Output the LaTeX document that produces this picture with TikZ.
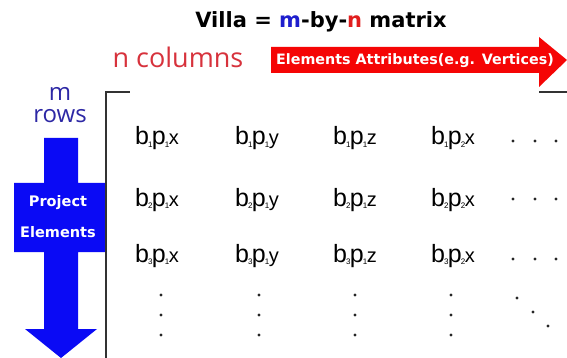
\documentclass[tikz,border=0pt]{standalone}
\usepackage{fontspec}
\setmainfont{DejaVu Sans}
\newfontfamily\opensans{Open Sans}
\newfontfamily\arialf{Liberation Sans}
\definecolor{arrowblue}{RGB}{10,10,245}
\definecolor{arrowred}{RGB}{245,5,5}
\definecolor{rowsblue}{RGB}{45,40,165}
\definecolor{colsred}{RGB}{215,50,60}
\definecolor{titleblue}{RGB}{30,30,205}
\definecolor{titlered}{RGB}{225,30,30}
\definecolor{bracketgray}{RGB}{50,50,50}
\newcommand\entry[3]{{\arialf\fontsize{25}{25}\selectfont b\kern-1pt\raisebox{-2.5pt}{\fontsize{8}{8}\selectfont #1}\kern-0.6pt p\kern-1pt\raisebox{-2.5pt}{\fontsize{8}{8}\selectfont #2}\kern-0.5pt{\fontsize{20}{20}\selectfont #3}}}
\begin{document}
\begin{tikzpicture}[x=1pt,y=-1pt,
  txt/.style={inner sep=0pt,anchor=base},
  cell/.style={inner sep=0pt,anchor=base},
  dotmark/.style={fill=black!85,circle,inner sep=0pt,minimum size=3.4pt},
  brack/.style={draw=bracketgray,line width=1.8pt},
  whitelbl/.style={inner sep=0pt,anchor=base,text=white,font=\bfseries\fontsize{14.5}{15}\selectfont}]
\useasboundingbox[fill=white] (0,0) rectangle (567,358);
% title
\node[txt,font=\bfseries\fontsize{21}{24}\selectfont] (title) at (321,28)
  {Villa = \textcolor{titleblue}{m}-by-\textcolor{titlered}{n} matrix};
% n columns
\node[txt,text=colsred,font=\opensans\fontsize{27}{30}\selectfont] (ncols) at (178,68) {n columns};
% red arrow
\fill[arrowred] (271,47) -- (539,47) -- (539,37) -- (567,60) -- (539,87) -- (539,73) -- (271,73) -- cycle;
\node[whitelbl,font=\bfseries\fontsize{14.3}{15}\selectfont] (attr) at (415,65) {Elements Attributes(e.g. Vertices)};
% m rows
\node[txt,text=rowsblue,font=\opensans\fontsize{24}{26}\selectfont] (mlbl) at (60,101) {m};
\node[txt,text=rowsblue,font=\opensans\fontsize{24}{26}\selectfont] (rows) at (60,123) {rows};
% blue arrow
\fill[arrowblue] (44,138) -- (78,138) -- (78,183) -- (105,183) -- (105,252) -- (78,252) -- (78,329)
  -- (97,329) -- (61,358) -- (25,329) -- (44,329) -- (44,252) -- (14,252) -- (14,183) -- (44,183) -- cycle;
\node[whitelbl] (proj) at (58,207) {Project};
\node[whitelbl] (elem) at (58,237) {Elements};
% bracket
\coordinate (bl) at (106,358);
\coordinate (tl) at (106,92);
\coordinate (tlr) at (130,92);
\coordinate (trl) at (539,92);
\coordinate (tr) at (567,92);
\draw[brack] (bl) -- (tl) -- (tlr);
\draw[brack] (trl) -- (tr);
% entries
\node[cell] (a11) at (157,145) {\entry{1}{1}{x}};
\node[cell] (a12) at (257,145) {\entry{1}{1}{y}};
\node[cell] (a13) at (355,145) {\entry{1}{1}{z}};
\node[cell] (a14) at (453,145) {\entry{1}{2}{x}};
\node[cell] (a21) at (157,206) {\entry{2}{1}{x}};
\node[cell] (a22) at (257,206) {\entry{2}{1}{y}};
\node[cell] (a23) at (355,206) {\entry{2}{1}{z}};
\node[cell] (a24) at (453,206) {\entry{2}{2}{x}};
\node[cell] (a31) at (157,262) {\entry{3}{1}{x}};
\node[cell] (a32) at (257,262) {\entry{3}{1}{y}};
\node[cell] (a33) at (355,262) {\entry{3}{1}{z}};
\node[cell] (a34) at (453,262) {\entry{3}{2}{x}};
% horizontal dots
\foreach \y [count=\r] in {141,199,259}{
  \foreach \x [count=\c] in {513,535,556}{
    \node[dotmark] (h\r\c) at (\x,\y) {};
  }
}
% vertical dots
\foreach \x [count=\c] in {161,259,355,451}{
  \foreach \y [count=\r] in {295,315,335}{
    \node[dotmark] (v\c\r) at (\x,\y) {};
  }
}
% diagonal dots
\node[dotmark] (d1) at (517,298) {};
\node[dotmark] (d2) at (533,312) {};
\node[dotmark] (d3) at (548,326) {};
\end{tikzpicture}
\end{document}
